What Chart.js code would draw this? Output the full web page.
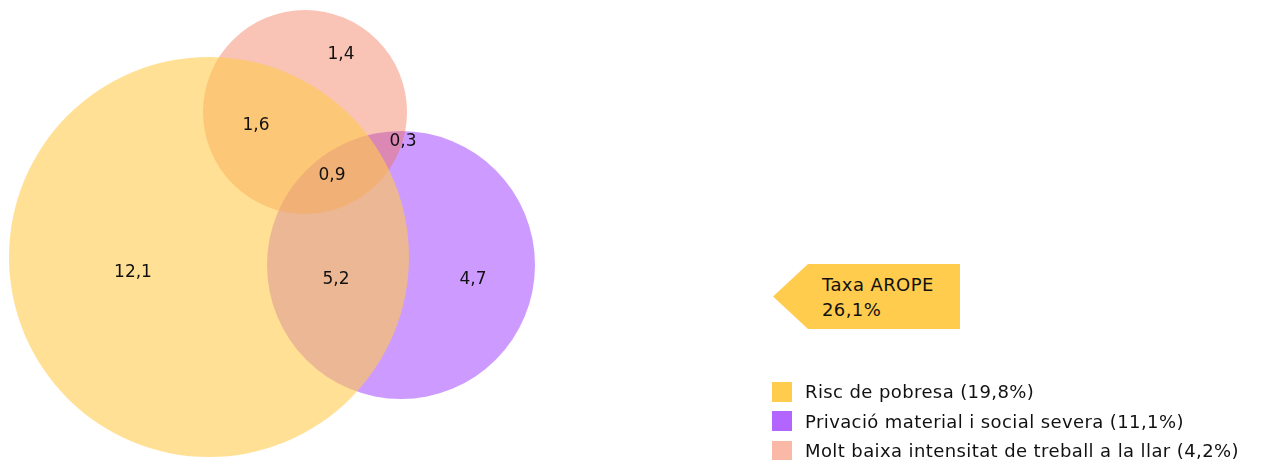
<!DOCTYPE html>
<html>
<head>
<meta charset="utf-8">
<script src="https://cdn.jsdelivr.net/npm/chart.js@4"></script>
<style>
  body { margin: 0; background: #fff; font-family: "DejaVu Sans", sans-serif; }
  #wrap { position: relative; width: 1261px; height: 460px; overflow: hidden; }
  #venn { position: absolute; left: 0; top: 0; }
  .arope {
    position: absolute; left: 773px; top: 264px; width: 187px; height: 65px;
    background: #FFCC4D;
    clip-path: polygon(35px 0, 100% 0, 100% 100%, 35px 100%, 0 50%);
    box-sizing: border-box; padding: 8px 0 0 49px;
    font-size: 18px; letter-spacing: 0.4px; line-height: 25px; color: #111;
  }
  .legend { position: absolute; left: 772px; top: 377px; font-size: 18px; letter-spacing: 0.4px; color: #111; }
  .legend div { height: 29.5px; display: flex; align-items: center; white-space: nowrap; }
  .legend span { display: inline-block; width: 20px; height: 20px; margin-right: 13px; }
</style>
</head>
<body>
<div id="wrap">
  <canvas id="venn" width="1261" height="460"></canvas>
  <div class="arope" id="arope"></div>
  <div class="legend" id="legend"></div>
</div>
<script>
// sets (legend order)
const setNames = ["Risc de pobresa (19,8%)", "Privació material i social severa (11,1%)", "Molt baixa intensitat de treball a la llar (4,2%)"];
const setCenterX = [209, 401, 305];
const setCenterY = [257, 265, 112];
const setRadius = [200, 134, 102];
// region values of the diagram
const regionLabels = ["12,1", "1,6", "1,4", "0,3", "0,9", "5,2", "4,7"];
const regionX = [133, 256, 341, 403, 332, 336, 473];
const regionY = [273, 126, 55, 142, 176, 280, 280];
const aropeLabel = ["Taxa AROPE", "26,1%"];

const fills = ["rgba(255,204,77,0.6)", "rgba(179,102,255,0.66)", "rgba(241,112,79,0.42)"];
const legendColors = ["#FFCC4D", "#B366FF", "#F9B9A6"];
// yellow on top, then pink, purple at the bottom
const drawOrder = [0, 2, 1];

const datasets = setNames.map((name, i) => ({
    type: 'bubble',
    label: name,
    data: [{ x: setCenterX[i], y: setCenterY[i], r: setRadius[i] }],
    backgroundColor: fills[i],
    borderWidth: 0,
    clip: false,
    order: drawOrder[i]
}));
datasets.push({
    type: 'scatter',
    label: 'regions',
    data: regionLabels.map((t, i) => ({ x: regionX[i], y: regionY[i] })),
    pointRadius: 0,
    clip: false,
    order: -1
});

// write region values over the circles
const regionText = {
    id: 'regionText',
    afterDatasetsDraw(chart) {
        const ctx = chart.ctx;
        const meta = chart.getDatasetMeta(chart.data.datasets.length - 1);
        ctx.save();
        ctx.font = "17px 'DejaVu Sans', sans-serif";
        ctx.fillStyle = "#111";
        ctx.textAlign = "center";
        ctx.textBaseline = "middle";
        meta.data.forEach((pt, i) => ctx.fillText(regionLabels[i], pt.x, pt.y));
        ctx.restore();
    }
};

new Chart(document.getElementById('venn'), {
    data: { datasets: datasets },
    options: {
        animation: false,
        responsive: false,
        events: [],
        layout: { padding: 0, autoPadding: false },
        plugins: { legend: { display: false }, tooltip: { enabled: false } },
        scales: {
            x: { type: 'linear', min: 0, max: 1261, display: false },
            y: { type: 'linear', min: 0, max: 460, reverse: true, display: false }
        }
    },
    plugins: [regionText]
});

document.getElementById('arope').innerHTML = aropeLabel.join("<br>");
document.getElementById('legend').innerHTML = setNames.map((n, i) =>
    `<div><span style="background:${legendColors[i]}"></span>${n}</div>`).join("");
</script>
</body>
</html>
